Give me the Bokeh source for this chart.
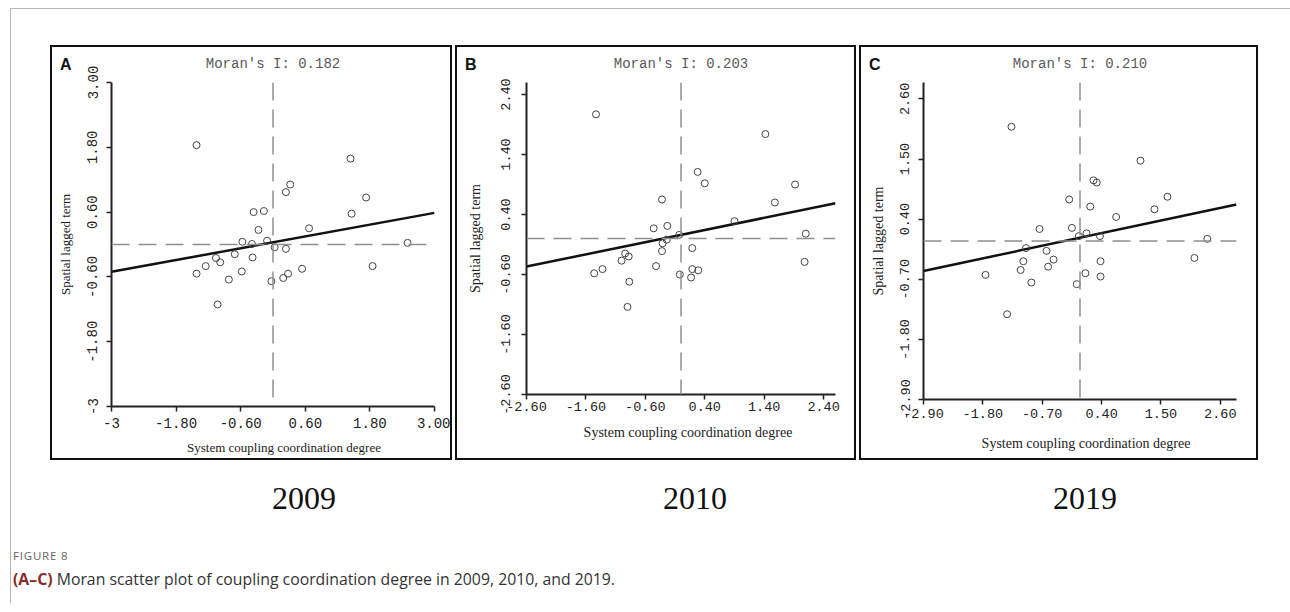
from bokeh.plotting import figure
from bokeh.models import Span, FixedTicker, Div, Spacer
from bokeh.layouts import row, column
from bokeh.embed import file_html
from bokeh.resources import INLINE

# ---------------- data ----------------
panel_letters = ["A", "B", "C"]
years = ["2009", "2010", "2019"]
moran_i = [0.182, 0.203, 0.210]
line_intercepts = [0.04, 0.06, 0.06]

axis_lo = [-3.0, -2.6, -2.9]
axis_hi = [3.0, 2.6, 2.9]

ticks_2009 = [-3.0, -1.8, -0.6, 0.6, 1.8, 3.0]
tick_labels_2009 = ["-3", "-1.80", "-0.60", "0.60", "1.80", "3.00"]
ticks_2010 = [-2.6, -1.6, -0.6, 0.4, 1.4, 2.4]
tick_labels_2010 = ["-2.60", "-1.60", "-0.60", "0.40", "1.40", "2.40"]
ticks_2019 = [-2.9, -1.8, -0.7, 0.4, 1.5, 2.6]
tick_labels_2019 = ["-2.90", "-1.80", "-0.70", "0.40", "1.50", "2.60"]

x_2009 = [-1.42, 1.44, 0.32, 0.24, 1.73, -0.36, -0.17, 1.46, -0.27, 0.67, -0.57, -0.39, -0.11, 0.03, 0.24,
          2.50, -0.71, -1.06, -0.98, -0.38, -1.25, -1.42, -0.58, 0.54, 1.85, -0.82, -0.03, 0.19, 0.28, -1.03]
y_2009 = [1.84, 1.59, 1.11, 0.97, 0.87, 0.60, 0.62, 0.57, 0.27, 0.30, 0.05, 0.01, 0.07, -0.05, -0.08,
          0.03, -0.18, -0.25, -0.33, -0.24, -0.40, -0.54, -0.50, -0.45, -0.40, -0.65, -0.68, -0.62, -0.54, -1.11]

x_2010 = [-1.43, 1.42, 0.28, 0.40, 1.92, -0.32, 1.58, 0.90, -0.46, -0.23, -0.24, -0.31, -0.03, 2.10, 0.19,
          -0.32, -0.94, -0.88, -1.00, 2.08, -0.42, -1.32, -1.46, 0.19, 0.29, -0.02, 0.17, -0.87, -0.90]
y_2010 = [2.07, 1.74, 1.11, 0.92, 0.90, 0.65, 0.60, 0.29, 0.17, 0.21, -0.02, -0.08, 0.06, 0.08, -0.16,
          -0.21, -0.25, -0.30, -0.37, -0.39, -0.46, -0.51, -0.58, -0.51, -0.53, -0.60, -0.65, -0.72, -1.14]

x_2019 = [-1.27, 1.12, 0.25, 0.31, 1.62, -0.20, 0.19, 1.38, 0.67, -0.75, -0.15, -0.02, 0.12, 0.37, 2.36,
          -1.00, -0.62, 2.12, -1.05, -0.49, 0.38, -1.10, -0.59, -1.75, 0.10, 0.38, -0.90, -0.06, -1.35]
y_2019 = [2.09, 1.47, 1.11, 1.07, 0.81, 0.76, 0.63, 0.58, 0.44, 0.22, 0.24, 0.09, 0.14, 0.09, 0.04,
          -0.13, -0.18, -0.31, -0.37, -0.34, -0.37, -0.53, -0.47, -0.62, -0.59, -0.65, -0.76, -0.79, -1.34]

x_label = "System coupling coordination degree"
y_label = "Spatial lagged term"
figure_label = "FIGURE 8"
caption_bold = "(A\u2013C)"
caption_text = "Moran scatter plot of coupling coordination degree in 2009, 2010, and 2019."

xs_all = [x_2009, x_2010, x_2019]
ys_all = [y_2009, y_2010, y_2019]
ticks_all = [ticks_2009, ticks_2010, ticks_2019]
labels_all = [tick_labels_2009, tick_labels_2010, tick_labels_2019]

# ---------------- layout / style settings ----------------
PANEL_H = 415
panel_widths = [402, 401, 399]
borders = [  # left, right, top, bottom (inside the 2px box border)
    (59, 20, 35, 56),
    (69, 23, 35, 68),
    (62, 24, 35, 63),
]
tick_font = ["14px", "13.5px", "13.5px"]
ylab_standoff = [9, 12, 9]
yaxis_standoff = [12, 15, 12]
xlab_standoff = [6, 2, 4]
# x-axis title placement inside each boxed panel: (centre x, top y, font size)
xtitle_pos = [(234, 395, 13), (233, 380, 14), (227, 391, 14)]

MONO = "Liberation Mono"
SERIF = "Liberation Serif"


def make_panel(i):
    w = panel_widths[i]
    bl, br, bt, bb = borders[i]
    lo, hi = axis_lo[i], axis_hi[i]
    p = figure(width=w, height=PANEL_H, x_range=(lo, hi), y_range=(lo, hi),
               output_backend="svg", toolbar_location=None,
               min_border_left=bl, min_border_right=br, min_border_top=bt, min_border_bottom=bb,
               background_fill_color="white", border_fill_color="white",
               styles={"border": "2px solid #111"})
    p.outline_line_color = None
    p.xgrid.visible = False
    p.ygrid.visible = False

    p.title.text = f"Moran's I: {moran_i[i]:.3f}"
    p.title.align = "center"
    p.title.vertical_align = "top"
    p.title.standoff = 17
    p.title.text_font = MONO
    p.title.text_font_size = "14px"
    p.title.text_font_style = "normal"
    p.title.text_color = "#5a5a5a"

    overrides = {t: l for t, l in zip(ticks_all[i], labels_all[i])}
    for ax in (p.xaxis[0], p.yaxis[0]):
        ax.ticker = FixedTicker(ticks=ticks_all[i])
        ax.major_label_overrides = overrides
        ax.axis_line_width = 2
        ax.axis_line_color = "#222222"
        ax.major_tick_line_width = 1.5
        ax.major_tick_line_color = "#222222"
        ax.major_tick_out = 5
        ax.major_tick_in = 0
        ax.minor_tick_line_color = None
        ax.major_label_text_font = MONO
        ax.major_label_text_font_size = tick_font[i]
        ax.major_label_text_color = "#222222"
    p.yaxis.axis_label = y_label
    p.yaxis.axis_label_text_font = SERIF
    p.yaxis.axis_label_text_font_style = "normal"
    p.yaxis.axis_label_text_font_size = "13px" if i == 0 else "14px"
    p.yaxis.axis_label_text_color = "#222222"
    p.yaxis.major_label_orientation = "vertical"
    p.yaxis.major_label_standoff = ylab_standoff[i]
    p.yaxis.axis_label_standoff = yaxis_standoff[i]
    p.xaxis.major_label_standoff = xlab_standoff[i]

    # mean reference lines
    p.add_layout(Span(location=0, dimension="height", line_color="#8f8f8f",
                      line_width=1.5, line_dash="18 9"))
    p.add_layout(Span(location=0, dimension="width", line_color="#8f8f8f",
                      line_width=1.5, line_dash="18 9"))

    # regression line (slope = Moran's I)
    m, b = moran_i[i], line_intercepts[i]
    p.line([lo, hi], [b + m * lo, b + m * hi], line_color="#111111", line_width=2.5)

    p.scatter(xs_all[i], ys_all[i], marker="circle", size=7, fill_color=None,
              line_color="#444444", line_width=1)

    # overlay with the panel letter and the x-axis title
    cx, ty, fs = xtitle_pos[i]
    html = (f'<div style="position:absolute;left:10px;top:12px;font-family:\'Liberation Sans\';'
            f'font-weight:bold;font-size:16px;line-height:16px;color:#111;">{panel_letters[i]}</div>'
            f'<div style="position:absolute;left:{cx - 160}px;top:{ty}px;width:320px;text-align:center;'
            f'font-family:\'Liberation Serif\';font-size:{fs}px;line-height:16px;color:#222;'
            f'white-space:nowrap;">{x_label}</div>')
    overlay = Div(text=html, width=w, height=PANEL_H, margin=(0, 0, -PANEL_H, 0),
                  styles={"position": "relative", "z-index": "5", "pointer-events": "none"})
    return column(overlay, p)


panels = [make_panel(i) for i in range(3)]

panel_row = row(Spacer(width=39, height=PANEL_H), panels[0], Spacer(width=3, height=PANEL_H),
                panels[1], Spacer(width=3, height=PANEL_H), panels[2])

year_centers = [293, 684, 1074]
year_html = '<div style="position:relative;width:1279px;height:70px;">'
for c, yr in zip(year_centers, years):
    year_html += (f'<div style="position:absolute;left:{c - 60}px;top:22px;width:120px;'
                  f'text-align:center;font-family:\'Liberation Serif\';font-size:32px;'
                  f'line-height:32px;color:#111;">{yr}</div>')
year_html += '</div>'
years_div = Div(text=year_html, width=1279, height=70, margin=0)

cap_html = ('<div style="position:relative;width:1279px;height:73px;font-family:\'Open Sans\';">'
            f'<div style="position:absolute;left:2px;top:19px;font-size:11.5px;letter-spacing:0.8px;'
            f'color:#666;line-height:14px;">{figure_label}</div>'
            f'<div style="position:absolute;left:2px;top:39px;font-size:15.8px;color:#333;'
            f'line-height:20px;white-space:nowrap;"><b style="color:#8a2b2b;">{caption_bold}</b> '
            f'{caption_text}</div></div>')
caption_div = Div(text=cap_html, width=1279, height=73, margin=0)

inner = column(Spacer(width=1279, height=36), panel_row, years_div, caption_div,
               styles={"border-top": "1px solid #b5b5b5", "border-left": "1px solid #b5b5b5"})

root = column(Spacer(width=1290, height=8), row(Spacer(width=10, height=604), inner),
              styles={"background": "white"})

open("out.html", "w").write(file_html(root, INLINE))
